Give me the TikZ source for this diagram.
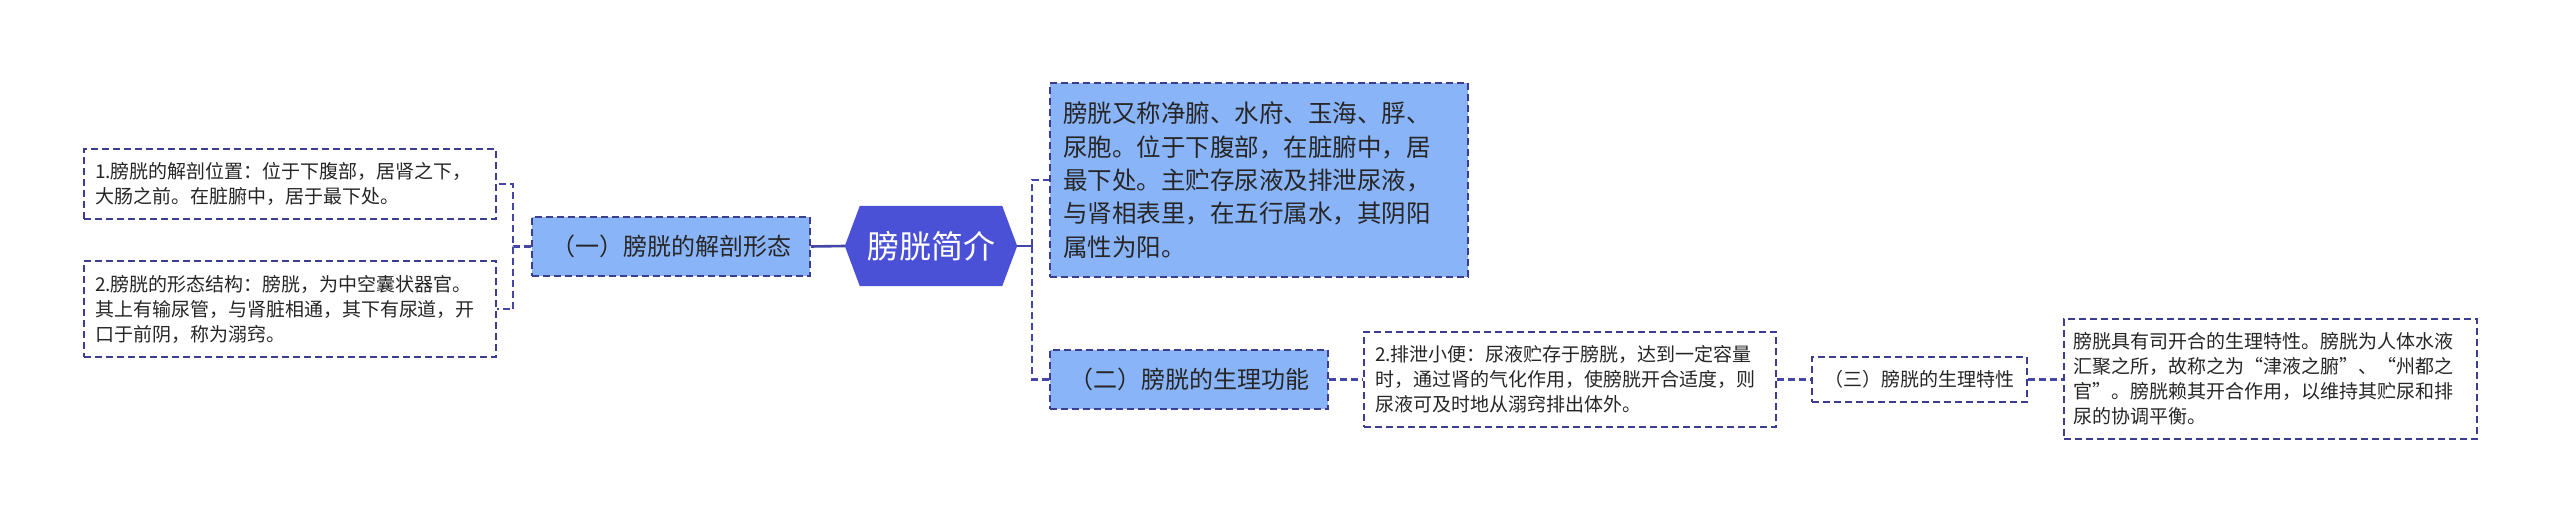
\documentclass[tikz,border=0pt]{standalone}
\usepackage{fontspec}
\setmainfont{Noto Sans CJK SC}
\usetikzlibrary{backgrounds}
\definecolor{bord}{HTML}{3D3D90}
\definecolor{connc}{HTML}{4545A8}
\definecolor{lightb}{HTML}{8AB4F8}
\definecolor{hexc}{HTML}{4B51D6}
\definecolor{txt}{HTML}{262626}
\tikzset{
  leaf/.style={draw=bord, dash pattern=on 7pt off 4pt, line width=1.6pt, fill=white, text=txt,
    align=left, inner xsep=11pt, inner ysep=4pt, font=\fontsize{19pt}{25pt}\selectfont},
  midbox/.style={draw=bord, dash pattern=on 7pt off 4pt, line width=1.6pt, fill=lightb, text=txt,
    align=center, inner sep=4pt, font=\fontsize{24pt}{30pt}\selectfont},
  mainbox/.style={draw=bord, dash pattern=on 7pt off 4pt, line width=1.6pt, fill=lightb, text=txt,
    align=left, inner xsep=13pt, inner ysep=4pt, font=\fontsize{24.5pt}{33.3pt}\selectfont},
  conn/.style={draw=connc, line width=2.2pt, dash pattern=on 7pt off 4pt},
  solidconn/.style={draw=connc, line width=2.6pt}
}
\begin{document}
\begin{tikzpicture}[x=1pt,y=-1pt]
\useasboundingbox (0,0) rectangle (2560,524);

\node[leaf, text width=390pt, minimum height=70pt] (b1) at (290,184)
  {1.膀胱的解剖位置：位于下腹部，居肾之下，\\大肠之前。在脏腑中，居于最下处。};
\node[leaf, text width=390pt, minimum height=96pt] (b2) at (290,309)
  {2.膀胱的形态结构：膀胱，为中空囊状器官。\\其上有输尿管，与肾脏相通，其下有尿道，开\\口于前阴，称为溺窍。};
\node[midbox, minimum width=278pt, minimum height=59pt] (n1) at (671,246.5) {（一）膀胱的解剖形态};

\node[minimum width=172pt, minimum height=80pt, inner sep=0pt, text=white,
  font=\fontsize{32pt}{38pt}\selectfont] (hex) at (931,246) {膀胱简介};
\begin{scope}[on background layer]
  \fill[white] (0,0) rectangle (2560,524);
  \fill[hexc] (hex.west) -- ([xshift=15pt]hex.north west) -- ([xshift=-15pt]hex.north east)
    -- (hex.east) -- ([xshift=-15pt]hex.south east) -- ([xshift=15pt]hex.south west) -- cycle;
\end{scope}

\node[mainbox, text width=392pt, minimum height=194pt] (m) at (1259,180)
  {膀胱又称净腑、水府、玉海、脬、\\尿胞。位于下腹部，在脏腑中，居\\最下处。主贮存尿液及排泄尿液，\\与肾相表里，在五行属水，其阴阳\\属性为阳。};
\node[midbox, minimum width=278pt, minimum height=59pt] (n2) at (1189,379.5) {（二）膀胱的生理功能};
\node[leaf, text width=390pt, minimum height=95pt] (b3) at (1570,379.5)
  {2.排泄小便：尿液贮存于膀胱，达到一定容量\\时，通过肾的气化作用，使膀胱开合适度，则\\尿液可及时地从溺窍排出体外。};
\node[leaf, align=center, minimum width=215pt, minimum height=45pt] (n3) at (1919.5,379.5) {（三）膀胱的生理特性};
\node[leaf, text width=395pt, inner xsep=9pt, minimum height=120pt] (b4) at (2270.5,379)
  {膀胱具有司开合的生理特性。膀胱为人体水液\\汇聚之所，故称之为“津液之腑”、“州都之\\官”。膀胱赖其开合作用，以维持其贮尿和排\\尿的协调平衡。};

\coordinate (lj) at ([xshift=-18pt]n1.west);
\coordinate (rj) at ([xshift=15pt]hex.east);
\draw[solidconn] (hex.west) -- (n1.east);
\draw[conn] (n1.west) -- (lj) |- (b1.east);
\draw[conn] (lj) |- (b2.east);
\draw[solidconn] (hex.east) -- (rj);
\draw[conn] (rj) |- (m.west);
\draw[conn] (rj) |- (n2.west);
\draw[conn] (n2.east) -- (b3.west);
\draw[conn] (b3.east) -- (n3.west);
\draw[conn] (n3.east) -- (n3.east -| b4.west);
\end{tikzpicture}
\end{document}
